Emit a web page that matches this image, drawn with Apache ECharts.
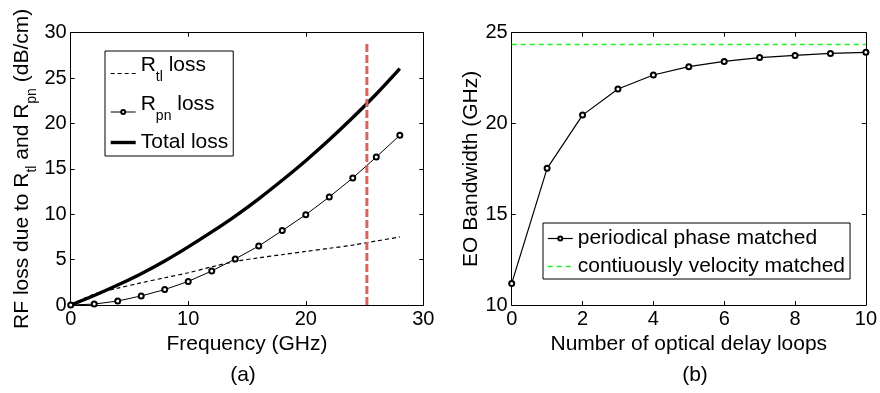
<!DOCTYPE html>
<html><head><meta charset="utf-8">
<script src="https://cdn.jsdelivr.net/npm/echarts@6/dist/echarts.min.js"></script>
<style>html,body{margin:0;padding:0;background:#fff}#c{width:880px;height:393px}</style>
</head><body><div id="c"></div>
<script>
// ---- panel (a) data ----
const freq   = [0, 2, 4, 6, 8, 10, 12, 14, 16, 18, 20, 22, 24, 26, 28];
const rtlLoss = [0, 1.2, 1.85, 2.45, 3.0, 3.55, 4.2, 4.8, 5.2, 5.55, 5.9, 6.25, 6.6, 7.05, 7.5];
const rpnLoss = [0, 0.1, 0.44, 1.0, 1.7, 2.6, 3.75, 5.07, 6.5, 8.2, 9.95, 11.9, 14.0, 16.3, 18.7];
const totalLoss = [0, 1.05, 2.2, 3.45, 4.85, 6.4, 8.05, 9.8, 11.7, 13.75, 15.9, 18.2, 20.65, 23.25, 26.05];
const cutoffX = [25.2, 25.2];
const cutoffY = [0, 28.8];
// ---- panel (b) data ----
const loops = [0, 1, 2, 3, 4, 5, 6, 7, 8, 9, 10];
const eoBandwidth = [11.19, 17.53, 20.46, 21.9, 22.67, 23.13, 23.42, 23.63, 23.75, 23.86, 23.92];
const velX = [0, 10];
const velY = [24.35, 24.35];
// ---- tick settings ----
const ticksA = {xmin: 0, xmax: 30, xint: 10, ymin: 0, ymax: 30, yint: 5};
const ticksB = {xmin: 0, xmax: 10, xint: 2, ymin: 10, ymax: 25, yint: 5};

const FONT = '"Liberation Sans", Arial, Helvetica, sans-serif';
const zip = (a, b) => a.map((v, i) => [v, b[i]]);

function axis(extra) {
  return Object.assign({
    type: 'value',
    axisLine: {show: true, onZero: false, lineStyle: {color: '#000', width: 1}},
    axisTick: {show: true, inside: true, length: 4, lineStyle: {color: '#000', width: 1}},
    splitLine: {show: false},
    axisLabel: {color: '#000', fontSize: 20, fontFamily: FONT, margin: 4},
    nameTextStyle: {color: '#000', fontSize: 21, fontFamily: FONT}
  }, extra);
}
const noLabel = {show: false};
const hideSym = {opacity: 0};

const chart = echarts.init(document.getElementById('c'), null, {renderer: 'canvas'});
const legendNames = {
  'Rtl loss': '{m|R}{s|tl}{m| loss}',
  'Rpn loss': '{m|R}{s|pn}{m| loss}',
  'Total loss': '{t|Total loss}'
};
chart.setOption({
  animation: false,
  backgroundColor: '#fff',
  grid: [
    {left: 70.7, right: 456.7, top: 32.7, bottom: 88},
    {left: 511.7, right: 11.7, top: 32.7, bottom: 88}
  ],
  xAxis: [
    axis({gridIndex: 0, position: 'bottom', min: ticksA.xmin, max: ticksA.xmax, interval: ticksA.xint,
      name: 'Frequency (GHz)', nameLocation: 'middle', nameGap: 25}),
    axis({gridIndex: 0, position: 'top', min: ticksA.xmin, max: ticksA.xmax, interval: ticksA.xint, axisLabel: noLabel}),
    axis({gridIndex: 1, position: 'bottom', min: ticksB.xmin, max: ticksB.xmax, interval: ticksB.xint,
      name: 'Number of optical delay loops', nameLocation: 'middle', nameGap: 25}),
    axis({gridIndex: 1, position: 'top', min: ticksB.xmin, max: ticksB.xmax, interval: ticksB.xint, axisLabel: noLabel})
  ],
  yAxis: [
    axis({gridIndex: 0, position: 'left', min: ticksA.ymin, max: ticksA.ymax, interval: ticksA.yint,
      name: '{m|RF loss due to R}{s|tl}{m| and R}{s|pn}{m| (dB/cm)}', nameLocation: 'middle', nameRotate: 90, nameGap: 32,
      nameTextStyle: {color: '#000', fontSize: 21, fontFamily: FONT,
        rich: {m: {fontSize: 21, fontFamily: FONT, color: '#000'},
               s: {fontSize: 14, fontFamily: FONT, color: '#000', padding: [18, 0, 0, 0]}}}}),
    axis({gridIndex: 0, position: 'right', min: ticksA.ymin, max: ticksA.ymax, interval: ticksA.yint, axisLabel: noLabel}),
    axis({gridIndex: 1, position: 'left', min: ticksB.ymin, max: ticksB.ymax, interval: ticksB.yint,
      name: 'EO Bandwidth (GHz)', nameLocation: 'middle', nameRotate: 90, nameGap: 30}),
    axis({gridIndex: 1, position: 'right', min: ticksB.ymin, max: ticksB.ymax, interval: ticksB.yint, axisLabel: noLabel})
  ],
  legend: [
    {
      data: [
        {name: 'Rtl loss', itemStyle: hideSym, lineStyle: {width: 1.2}},
        {name: 'Rpn loss', lineStyle: {width: 1}},
        {name: 'Total loss', itemStyle: hideSym, lineStyle: {width: 3.4}}
      ],
      orient: 'vertical', left: 105, top: 51,
      padding: [4, 5, 3, 4], itemGap: 9, itemWidth: 25, itemHeight: 5,
      borderColor: '#000', borderWidth: 1, backgroundColor: '#fff',
      formatter: name => legendNames[name],
      textStyle: {color: '#000', fontSize: 21, fontFamily: FONT,
        rich: {m: {fontSize: 21, fontFamily: FONT, color: '#000', padding: [0, 0, 16, 0]},
               s: {fontSize: 14, fontFamily: FONT, color: '#000', padding: [8, 0, 0, 0]},
               t: {fontSize: 21, fontFamily: FONT, color: '#000'}}}
    },
    {
      data: [
        {name: 'periodical phase matched', lineStyle: {width: 1.2}},
        {name: 'contiuously velocity matched', itemStyle: hideSym, lineStyle: {width: 1.5}}
      ],
      orient: 'vertical', left: 543, top: 223,
      padding: [5, 5, 2, 4], itemGap: 7, itemWidth: 25, itemHeight: 5,
      borderColor: '#000', borderWidth: 1, backgroundColor: '#fff',
      textStyle: {color: '#000', fontSize: 21, fontFamily: FONT}
    }
  ],
  series: [
    {name: 'Rtl loss', type: 'line', xAxisIndex: 0, yAxisIndex: 0, data: zip(freq, rtlLoss),
      showSymbol: false, symbol: 'none', smooth: 0.3,
      lineStyle: {color: '#000', width: 1.2, type: [4, 3]}, itemStyle: {color: '#000'}},
    {name: 'Rpn loss', type: 'line', xAxisIndex: 0, yAxisIndex: 0, data: zip(freq, rpnLoss),
      symbol: 'emptyCircle', symbolSize: 5,
      lineStyle: {color: '#000', width: 1}, itemStyle: {color: '#000', borderColor: '#000', borderWidth: 1}},
    {name: 'Total loss', type: 'line', xAxisIndex: 0, yAxisIndex: 0, data: zip(freq, totalLoss),
      symbol: 'none', smooth: 0.4,
      lineStyle: {color: '#000', width: 3.4}, itemStyle: {color: '#000'}},
    {name: 'cutoff', type: 'line', xAxisIndex: 0, yAxisIndex: 0, data: zip(cutoffX, cutoffY),
      symbol: 'none', z: 5,
      lineStyle: {color: '#d9625c', width: 3, type: [8, 3]}},
    {name: 'periodical phase matched', type: 'line', xAxisIndex: 2, yAxisIndex: 2, data: zip(loops, eoBandwidth),
      symbol: 'emptyCircle', symbolSize: 5,
      lineStyle: {color: '#000', width: 1.2}, itemStyle: {color: '#000', borderColor: '#000', borderWidth: 1}},
    {name: 'contiuously velocity matched', type: 'line', xAxisIndex: 2, yAxisIndex: 2, data: zip(velX, velY),
      symbol: 'none',
      lineStyle: {color: '#22ee22', width: 1.5, type: [5, 4]}, itemStyle: {color: '#22ee22'}}
  ],
  graphic: [
    {type: 'text', x: 243, y: 375, style: {text: '(a)', fontSize: 21, fontFamily: FONT, fill: '#000', textAlign: 'center', textVerticalAlign: 'middle'}},
    {type: 'text', x: 695, y: 375, style: {text: '(b)', fontSize: 21, fontFamily: FONT, fill: '#000', textAlign: 'center', textVerticalAlign: 'middle'}}
  ]
});
</script>
</body></html>
